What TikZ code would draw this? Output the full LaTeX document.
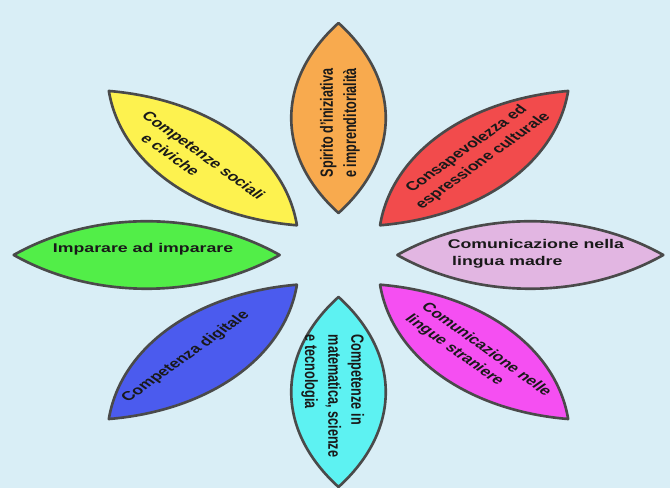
\documentclass[tikz,border=0pt]{standalone}
\usepackage{fontspec}
\setmainfont{Liberation Sans}
\definecolor{sky}{HTML}{D9EEF6}
\definecolor{petline}{HTML}{4A4A4A}
\definecolor{petorange}{HTML}{F8AA4E}
\definecolor{petred}{HTML}{F24B4C}
\definecolor{petlilac}{HTML}{E2B6E2}
\definecolor{petmagenta}{HTML}{F54FF2}
\definecolor{petcyan}{HTML}{5DF2F2}
\definecolor{petblue}{HTML}{4B5BEE}
\definecolor{petgreen}{HTML}{52EE48}
\definecolor{petyellow}{HTML}{FDF24F}
\tikzset{
  petal/.style={draw=petline, line width=1.5pt, line join=round},
  petaltext/.style={transform shape, inner sep=0pt, text=black!90,
    font=\fontsize{7.2}{9.4}\selectfont\bfseries},
}
\begin{document}
\begin{tikzpicture}[x=0.2mm, y=0.2mm, xscale=1.4]
    \fill[sky] (-241.8,-233) rectangle (236.8,255);

    % the eight petals, inner tip at 42, outer tip at 232
    \draw[petal, fill=petorange, rotate=90] (42,0) .. controls (99,45) and (175,45) .. (232,0) .. controls (175,-45) and (99,-45) .. cycle;
    \draw[petal, fill=petred, rotate=45] (42,0) .. controls (99,45) and (175,45) .. (232,0) .. controls (175,-45) and (99,-45) .. cycle;
    \draw[petal, fill=petlilac] (42,0) .. controls (99,45) and (175,45) .. (232,0) .. controls (175,-45) and (99,-45) .. cycle;
    \draw[petal, fill=petmagenta, rotate=-45] (42,0) .. controls (99,45) and (175,45) .. (232,0) .. controls (175,-45) and (99,-45) .. cycle;
    \draw[petal, fill=petcyan, rotate=-90] (42,0) .. controls (99,45) and (175,45) .. (232,0) .. controls (175,-45) and (99,-45) .. cycle;
    \draw[petal, fill=petblue, rotate=-135] (42,0) .. controls (99,45) and (175,45) .. (232,0) .. controls (175,-45) and (99,-45) .. cycle;
    \draw[petal, fill=petgreen, rotate=180] (42,0) .. controls (99,45) and (175,45) .. (232,0) .. controls (175,-45) and (99,-45) .. cycle;
    \draw[petal, fill=petyellow, rotate=135] (42,0) .. controls (99,45) and (175,45) .. (232,0) .. controls (175,-45) and (99,-45) .. cycle;

    % labels
    \node[petaltext, rotate=90, align=center] (spirito) at (1,132) {Spirito d'iniziativa\\e imprenditorialità};
    \node[petaltext, rotate=45, align=center] (consapevolezza) at (97.5,100) {Consapevolezza ed\\espressione culturale};
    \node[petaltext, align=left] (madre) at (141,1) {Comunicazione nella\\\hspace*{0.25em}lingua madre};
    \node[petaltext, rotate=-45, align=left] (straniere) at (99.6,-100.6) {Comunicazione nelle\\lingue straniere};
    \node[petaltext, rotate=-90, align=left] (matematica) at (-4,-141) {Competenze in\\matematica, scienze\\e tecnologia};
    \node[petaltext, rotate=45] (digitale) at (-109,-102) {Competenza digitale};
    \node[petaltext] (imparare) at (-139.6,6) {Imparare ad imparare};
    \node[petaltext, rotate=-45, align=left] (sociali) at (-102,94) {Competenze sociali\\\hspace*{1.2em}e civiche};
\end{tikzpicture}
\end{document}
